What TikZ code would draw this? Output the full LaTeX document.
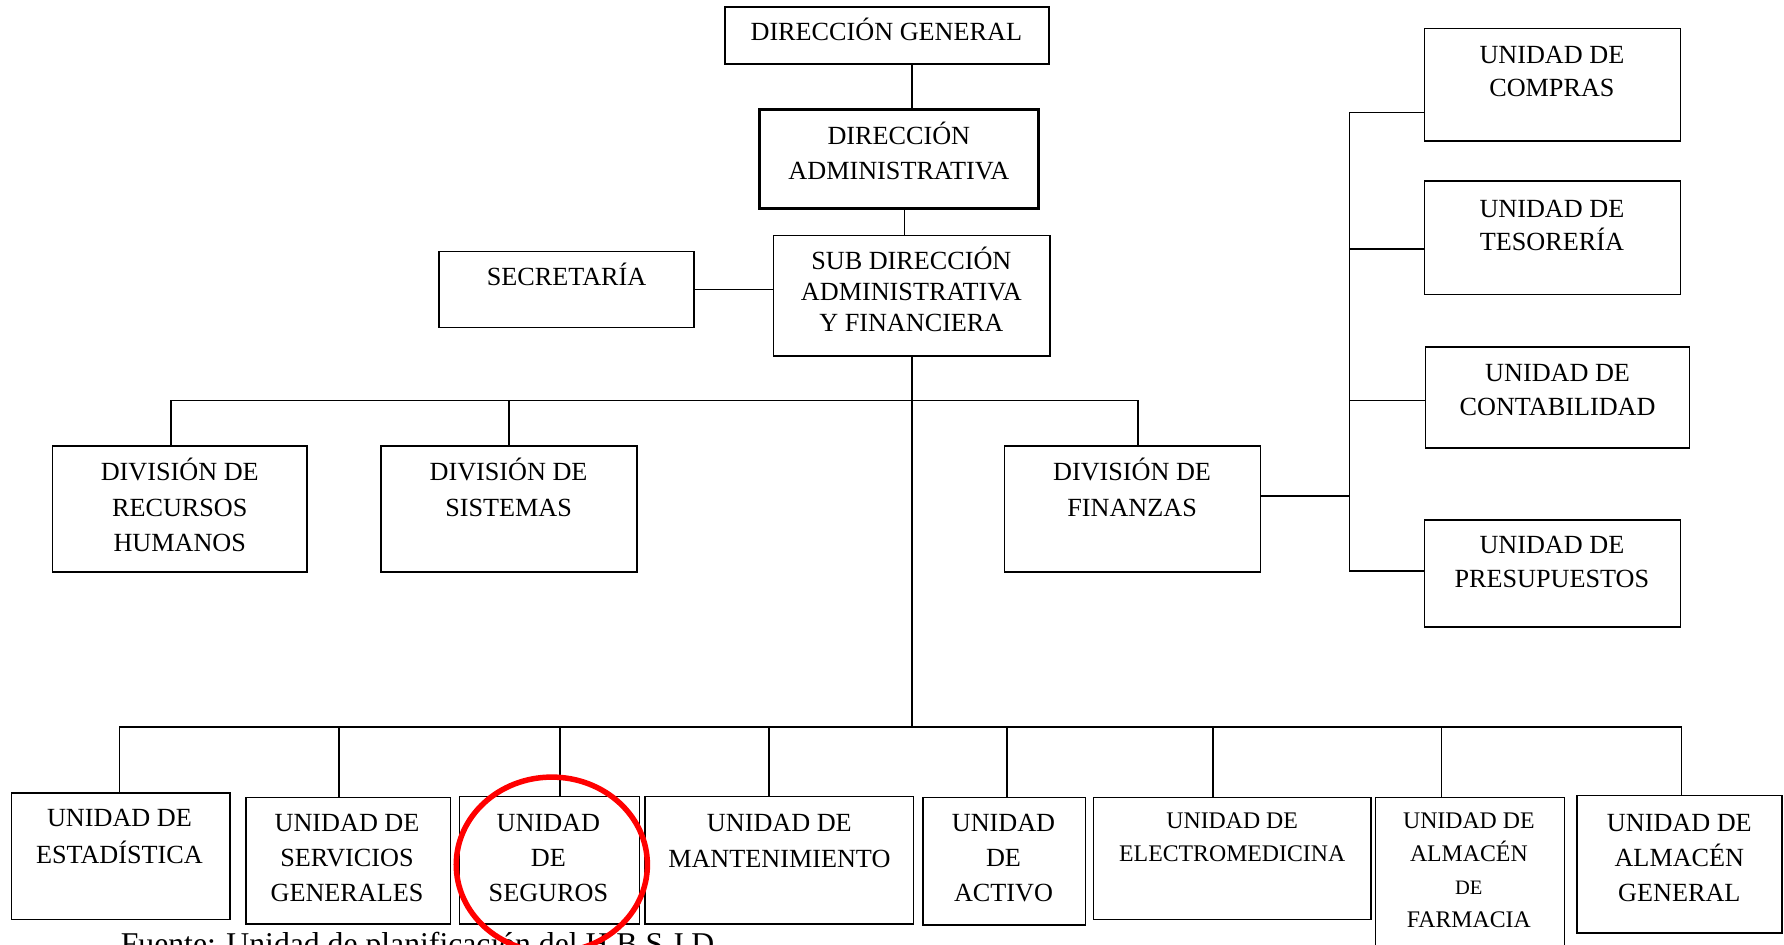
\documentclass[tikz,border=0pt]{standalone}
\usepackage{fontspec}
\setmainfont{Liberation Serif}
\usetikzlibrary{fit}
\newcommand\lns[1]{\begin{tabular}[t]{@{}c@{}}#1\end{tabular}}
\newcommand\bx[5]{\path (#2,#3) coordinate (#1-a) (#4,#5) coordinate (#1-b);
  \node[box, fit=(#1-a)(#1-b)] (#1) {};}
\begin{document}
\begin{tikzpicture}[x=1.1378pt, y=-1.1378pt,
  box/.style={draw, line width=1.6pt, inner sep=0pt},
  conn/.style={line width=1.7pt},
  thinconn/.style={line width=1pt},
  lbl/.style={anchor=base, inner sep=0pt, font=\fontsize{26.2pt}{#1}\selectfont},
  lbl/.default=35.3pt,
  slbl/.style={anchor=base, inner sep=0pt, font=\fontsize{23.8pt}{#1}\selectfont},
  slbl/.default=33pt]
\useasboundingbox (0,0) rectangle (1568,830);
\clip (0,0) rectangle (1568,830);

% boxes
\bx{dg}{637}{6}{922}{56}
\bx{da}{668}{97}{912}{183}
\draw[line width=2.8pt] (da.north west) rectangle (da.south east);
\bx{sd}{680}{207}{923}{313}
\bx{sec}{386}{221}{610}{288}
\bx{rh}{46}{392}{270}{503}
\bx{sis}{335}{392}{560}{503}
\bx{fin}{883}{392}{1108}{503}
\bx{com}{1252}{25}{1477}{124}
\bx{tes}{1252}{159}{1477}{259}
\bx{con}{1253}{305}{1485}{394}
\bx{pre}{1252}{457}{1477}{551}
\bx{est}{10}{697}{202}{808}
\bx{ser}{216}{701}{396}{812}
\bx{seg}{404}{700}{562}{812}
\bx{man}{567}{700}{803}{812}
\bx{act}{811}{701}{954}{813}
\bx{ele}{961}{701}{1205}{808}
\bx{far}{1209}{701}{1375}{850}
\bx{gen}{1386}{699}{1566}{820}

% texts
\node[lbl] (dg-t) at (779,35.6) {DIRECCIÓN GENERAL};
\node[lbl] (da-t) at (790,126.6) {\lns{DIRECCIÓN\\ADMINISTRATIVA}};
\node[lbl=31.3pt] (sd-t) at (801,236.6) {\lns{SUB DIRECCIÓN\\ADMINISTRATIVA\\Y FINANCIERA}};
\node[lbl] (sec-t) at (498,250.6) {SECRETARÍA};
\node[lbl] (rh-t) at (158,422.6) {\lns{DIVISIÓN DE\\RECURSOS\\HUMANOS}};
\node[lbl] (sis-t) at (447,422.6) {\lns{DIVISIÓN DE\\SISTEMAS}};
\node[lbl] (fin-t) at (995,422.6) {\lns{DIVISIÓN DE\\FINANZAS}};
\node[lbl=33pt] (com-t) at (1364,55.6) {\lns{UNIDAD DE\\COMPRAS}};
\node[lbl=31.9pt] (tes-t) at (1364,191.6) {\lns{UNIDAD DE\\TESORERÍA}};
\node[lbl=34.1pt] (con-t) at (1369,335.6) {\lns{UNIDAD DE\\CONTABILIDAD}};
\node[lbl=34.1pt] (pre-t) at (1364,486.6) {\lns{UNIDAD DE\\PRESUPUESTOS}};
\node[lbl=36.4pt] (est-t) at (105,726.6) {\lns{UNIDAD DE\\ESTADÍSTICA}};
\node[lbl] (ser-t) at (305,730.6) {\lns{UNIDAD DE\\SERVICIOS\\GENERALES}};
\node[lbl] (seg-t) at (482,730.6) {\lns{UNIDAD\\DE\\SEGUROS}};
\node[lbl=36.4pt] (man-t) at (685,730.6) {\lns{UNIDAD DE\\MANTENIMIENTO}};
\node[lbl] (act-t) at (882,730.6) {\lns{UNIDAD\\DE\\ACTIVO}};
\node[slbl] (ele-t) at (1083,728) {\lns{UNIDAD DE\\ELECTROMEDICINA}};
\node[slbl] (far-t) at (1291,728) {\lns{UNIDAD DE\\ALMACÉN\\{\fontsize{20.5pt}{33pt}\selectfont DE}\\FARMACIA}};
\node[lbl] (gen-t) at (1476,730.6) {\lns{UNIDAD DE\\ALMACÉN\\GENERAL}};
\node[anchor=base west, inner sep=0pt, font=\fontsize{31.7pt}{38pt}\selectfont] (cap) at (106,839) {Fuente: Unidad de planificación del H.B.S.J.D.};

% connectors: top chain
\draw[conn] (dg.south -| sd.north) -- (da.north -| sd.north);
\coordinate (xa) at (795,0);
\draw[thinconn] (da.south -| xa) -- (sd.north -| xa);
\draw[conn] (sec.east) -- (sec.east -| sd.west);

% divisions bus
\coordinate (ubL) at (150,352);
\coordinate (ubR) at (1000,352);
\draw[conn] (ubL) -- (ubR);
\draw[conn] (ubL) -- (ubL |- rh.north);
\draw[conn] (sis.north |- ubL) -- (sis.north);
\draw[conn] (ubR) -- (ubR |- fin.north);

% main trunk and bottom bus
\coordinate (bL) at (105,639);
\coordinate (bR) at (1478,639);
\draw[conn] (sd.south) -- (sd.south |- bL);
\draw[conn] (bL) -- (bR);
\draw[conn] (bL) -- (bL |- est.north);
\draw[conn] (298,639) -- (298,639 |- ser.north);
\draw[conn] (492,639) -- (492,639 |- seg.north);
\draw[conn] (676,639) -- (676,639 |- man.north);
\draw[conn] (885,639) -- (885,639 |- act.north);
\draw[conn] (1066,639) -- (1066,639 |- ele.north);
\draw[conn] (1267,639) -- (1267,639 |- far.north);
\draw[conn] (bR) -- (bR |- gen.north);

% finance units
\coordinate (rtop) at (1186,99);
\coordinate (rbot) at (1186,502);
\draw[conn] (fin.east |- 0,436) -- (1186,436);
\draw[conn] (rtop) -- (rbot);
\draw[conn] (rtop) -- (rtop -| com.west);
\draw[conn] (1186,219) -- (1186,219 -| tes.west);
\draw[conn] (1186,352) -- (1186,352 -| con.west);
\draw[conn] (rbot) -- (rbot -| pre.west);

% highlight
\draw[red, line width=5.5pt] (485,760) ellipse [x radius=84, y radius=77];
\end{tikzpicture}
\end{document}
